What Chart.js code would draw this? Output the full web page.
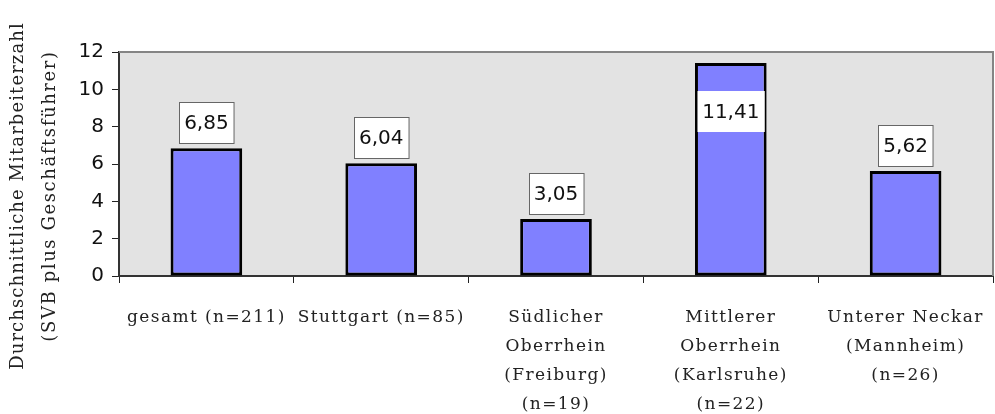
<!DOCTYPE html>
<html>
<head>
<meta charset="utf-8">
<script src="https://cdn.jsdelivr.net/npm/chart.js@4.4.1/dist/chart.umd.min.js"></script>
<style>
  html, body { margin: 0; padding: 0; background: #fff; }
  #chart { display: block; }
</style>
</head>
<body>
<canvas id="chart" width="995" height="414"></canvas>
<script>
// Durchschnittliche Mitarbeiterzahl nach Region
const regions = [
    'gesamt (n=211)',
    'Stuttgart (n=85)',
    ['Südlicher', 'Oberrhein', '(Freiburg)', '(n=19)'],
    ['Mittlerer', 'Oberrhein', '(Karlsruhe)', '(n=22)'],
    ['Unterer Neckar', '(Mannheim)', '(n=26)']
];
const avg_staff = [6.85, 6.04, 3.05, 11.41, 5.62];
const y_ticks = [0, 2, 4, 6, 8, 10, 12];
const y_title = ['Durchschnittliche Mitarbeiterzahl', '(SVB plus Geschäftsführer)'];

const plotBackground = {
    id: 'plotBackground',
    beforeDraw(chart) {
        const { ctx, chartArea: a } = chart;
        // wider letter spacing only for the category labels
        const xs = chart.scales.x;
        if (!xs._spaced) {
            const orig = xs.drawLabels;
            xs.drawLabels = function (area) {
                this.ctx.save();
                this.ctx.letterSpacing = '1.4px';
                orig.call(this, area);
                this.ctx.restore();
            };
            xs._spaced = true;
        }
        ctx.save();
        ctx.fillStyle = '#e3e3e3';
        ctx.fillRect(a.left, a.top, a.right - a.left, a.bottom - a.top);
        ctx.restore();
    },
    afterDraw(chart) {
        const { ctx, chartArea: a } = chart;
        ctx.save();
        ctx.strokeStyle = '#858585';
        ctx.lineWidth = 2;
        ctx.beginPath();
        ctx.moveTo(a.left, a.top);
        ctx.lineTo(a.right, a.top);
        ctx.lineTo(a.right, a.bottom);
        ctx.stroke();
        ctx.restore();
    }
};

const yTitle = {
    id: 'yTitle',
    afterDraw(chart) {
        const ctx = chart.ctx;
        ctx.save();
        ctx.font = '18px "DejaVu Serif"';
        ctx.fillStyle = '#222';
        ctx.textAlign = 'center';
        ctx.textBaseline = 'middle';
        const xs = [18, 50];
        const spacing = ['1.1px', '1.6px'];
        y_title.forEach((line, i) => {
            ctx.save();
            ctx.letterSpacing = spacing[i];
            ctx.translate(xs[i], 196);
            ctx.rotate(-Math.PI / 2);
            ctx.fillText(line, 0, 0);
            ctx.restore();
        });
        ctx.restore();
    }
};

const valueBoxes = {
    id: 'valueBoxes',
    afterDatasetsDraw(chart) {
        const ctx = chart.ctx;
        const area = chart.chartArea;
        const meta = chart.getDatasetMeta(0);
        ctx.save();
        ctx.font = '20px "DejaVu Sans"';
        ctx.textAlign = 'center';
        ctx.textBaseline = 'middle';
        meta.data.forEach((bar, i) => {
            const txt = avg_staff[i].toFixed(2).replace('.', ',');
            const w = ctx.measureText(txt).width + 10;
            const h = 41;
            let top = bar.y - 5 - h;
            let inside = false;
            if (top < area.top) {
                top = bar.y + 28;
                inside = true;
            }
            const left = Math.round(bar.x - w / 2) + 0.5;
            ctx.fillStyle = '#fff';
            ctx.fillRect(left, top, w, h);
            if (!inside) {
                ctx.strokeStyle = '#666';
                ctx.lineWidth = 1;
                ctx.strokeRect(left, Math.round(top) + 0.5, w, h);
            }
            ctx.fillStyle = '#111';
            ctx.fillText(txt, bar.x, top + h / 2 + 1);
        });
        ctx.restore();
    }
};

new Chart(document.getElementById('chart'), {
    type: 'bar',
    data: {
        labels: regions,
        datasets: [{
            data: avg_staff,
            backgroundColor: '#8080ff',
            borderColor: '#000',
            borderWidth: 3,
            borderSkipped: false,
            categoryPercentage: 1,
            barPercentage: 0.41
        }]
    },
    options: {
        responsive: false,
        animation: false,
        layout: { padding: { top: 52, right: 2, left: 0, bottom: 0 } },
        plugins: {
            legend: { display: false },
            tooltip: { enabled: false }
        },
        scales: {
            x: {
                afterFit(scale) { scale.height = 138; },
                grid: {
                    offset: true,
                    drawOnChartArea: false,
                    tickLength: 7,
                    color: '#222',
                    lineWidth: 1
                },
                border: { color: '#333', width: 2 },
                ticks: {
                    autoSkip: false,
                    maxRotation: 0,
                    minRotation: 0,
                    padding: 20,
                    color: '#222',
                    font: { family: 'DejaVu Serif', size: 17, lineHeight: '29px' }
                }
            },
            y: {
                min: 0,
                max: 12,
                afterFit(scale) { scale.width = 119; },
                afterBuildTicks(scale) {
                    scale.ticks = y_ticks.map(v => ({ value: v }));
                },
                grid: {
                    drawOnChartArea: false,
                    tickLength: 7,
                    color: '#222',
                    lineWidth: 1
                },
                border: { color: '#333', width: 2 },
                ticks: {
                    padding: 8,
                    color: '#111',
                    font: { family: 'DejaVu Sans', size: 20 }
                }
            }
        }
    },
    plugins: [plotBackground, yTitle, valueBoxes]
});
</script>
</body>
</html>
